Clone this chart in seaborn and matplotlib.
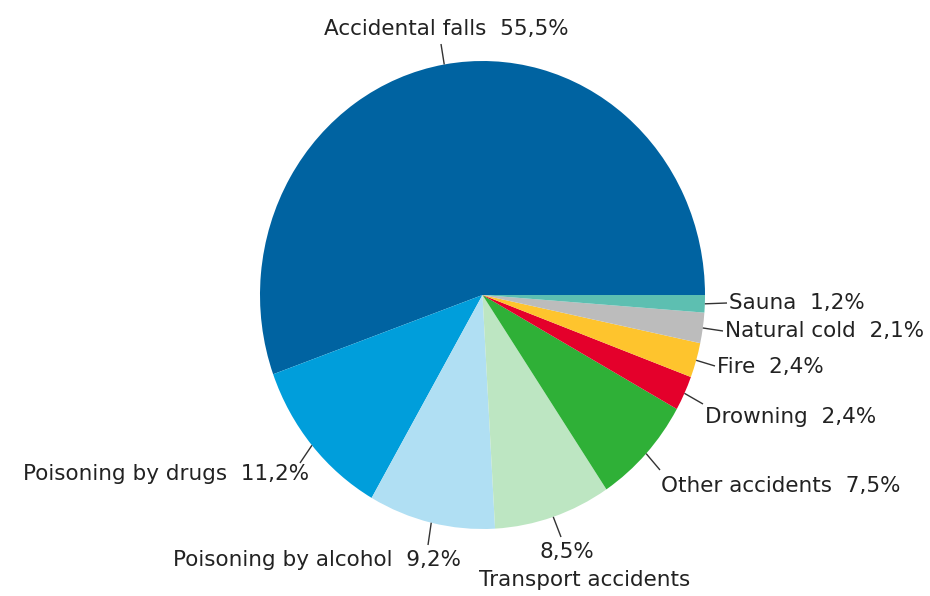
import numpy as np
import matplotlib
matplotlib.use("Agg")
import matplotlib.pyplot as plt
import seaborn as sns

# Accidental deaths by cause, share of total (%)
categories = ["Accidental falls", "Poisoning by drugs", "Poisoning by alcohol",
              "Transport accidents", "Other accidents", "Drowning", "Fire",
              "Natural cold", "Sauna"]
shares = [55.5, 11.2, 9.2, 8.5, 7.5, 2.4, 2.4, 2.1, 1.2]
share_labels = ["55,5%", "11,2%", "9,2%", "8,5%", "7,5%", "2,4%", "2,4%", "2,1%", "1,2%"]
colors = ["#0063a1", "#009edb", "#b0dff3", "#bde6c2", "#2fb037",
          "#e4002b", "#fec42d", "#bcbcbc", "#5dbfb1"]

sns.set_theme(style="white")
plt.rcParams["font.family"] = ["DejaVu Sans"]

W, H = 930, 596
fig = plt.figure(figsize=(W / 100, H / 100), dpi=100)
ax = fig.add_axes([0, 0, 1, 1])

palette = sns.color_palette(colors)
ax.pie(shares, colors=palette, startangle=0, counterclock=True, radius=1.0,
       wedgeprops=dict(linewidth=0), normalize=True)
ax.set_aspect("auto")

# pixel layout of the canvas: pie centre and radii
CX, CY, RX, RY = 482.5, 295.0, 222.5, 234.0
ax.set_xlim(-CX / RX, (W - CX) / RX)
ax.set_ylim((CY - H) / RY, CY / RY)
ax.axis("off")


def to_data(px, py):
    return (px - CX) / RX, (CY - py) / RY


# label placement: (text anchor px, ha, leader end px)
layout = {
    "Accidental falls": ((446, 29), "center", (441, 44)),
    "Poisoning by drugs": ((309, 474), "right", (300, 463)),
    "Poisoning by alcohol": ((461, 560), "right", (428, 545)),
    "Transport accidents": ((572, 566), "center", (561, 537)),
    "Other accidents": ((661, 486), "left", (660, 470)),
    "Drowning": ((705, 417), "left", (703, 404)),
    "Fire": ((717, 367), "left", (715, 366)),
    "Natural cold": ((725, 331), "left", (723, 331)),
    "Sauna": ((729, 303), "left", (727, 303)),
}

text_kw = dict(fontsize=15.5, color="#222222", va="center")
cum = np.cumsum(shares)
for cat, val, c, lab in zip(categories, shares, cum, share_labels):
    theta = np.deg2rad(360.0 * (c - val / 2.0) / 100.0)
    x0, y0 = np.cos(theta), np.sin(theta)
    (tx, ty), ha, (ex, ey) = layout[cat]
    x1, y1 = to_data(ex, ey)
    ax.plot([x0, x1], [y0, y1], color="#333333", lw=1.0, solid_capstyle="butt")
    if cat == "Transport accidents":
        ax.text(*to_data(567, 552), lab, ha="center", **text_kw)
        ax.text(*to_data(585, 580), cat, ha="center", **text_kw)
    else:
        ax.text(*to_data(tx, ty), f"{cat}  {lab}", ha=ha, **text_kw)

fig.savefig("out.png", dpi=100, facecolor="white")
